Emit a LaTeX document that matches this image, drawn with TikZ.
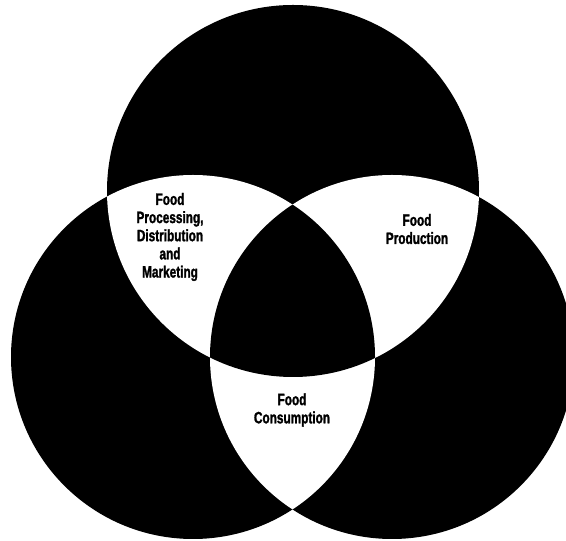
\documentclass[tikz,border=0pt]{standalone}
\usepackage{fontspec}
\newfontfamily\lblfont{Liberation Sans}[FakeStretch=0.72, BoldFeatures={FakeBold=1.6}]
\usepackage{tikz}
\tikzstyle{ink} = [fill=black]
\tikzstyle{paper} = [fill=white]
\tikzstyle{lbl} = [align=center, inner sep=0pt, font=\lblfont\bfseries\fontsize{14}{15.5}\selectfont, text=black]

\begin{document}
\begin{tikzpicture}[x=0.03cm, y=0.03cm]
  \useasboundingbox (0,0) rectangle (566,541);
  \coordinate (top) at (293,350);
  \coordinate (left) at (193,184);
  \coordinate (right) at (392,184);

  % three discs
  \fill[ink] (top) circle (186) (left) circle (182) (right) circle (182);
  % pairwise overlaps in white
  \begin{scope}
    \clip (top) circle (186);
    \fill[paper] (left) circle (182) (right) circle (182);
  \end{scope}
  \begin{scope}
    \clip (left) circle (182);
    \fill[paper] (right) circle (182);
  \end{scope}
  % common centre back to black
  \begin{scope}
    \clip (top) circle (186);
    \clip (left) circle (182);
    \fill[ink] (right) circle (182);
  \end{scope}

  \node[lbl] (proc) at (170,304) {Food\\Processing,\\Distribution\\and\\Marketing};
  \node[lbl] (prod) at (417,312) {Food\\Production};
  \node[lbl] (cons) at (292,131) {Food\\Consumption};
\end{tikzpicture}
\end{document}
